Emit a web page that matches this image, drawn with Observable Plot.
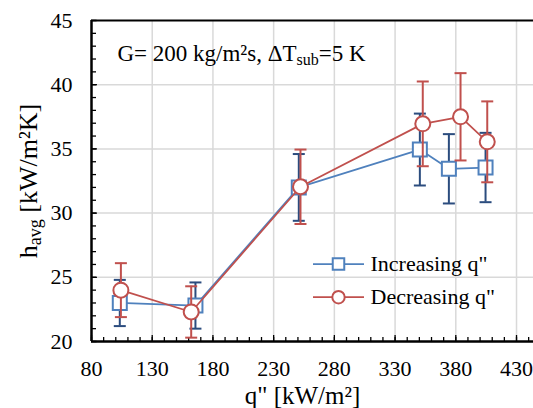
<!DOCTYPE html>
<html><head><meta charset="utf-8">
<script src="https://cdn.jsdelivr.net/npm/d3@7"></script>
<script src="https://cdn.jsdelivr.net/npm/@observablehq/plot@0.6"></script>
<style>html,body{margin:0;padding:0;background:#fff;overflow:hidden;}</style>
</head><body><div id="chart"></div>
<script>
// ---- data ----
const qInc = [103.3, 165.6, 250.7, 350.4, 374.3, 404.5];
const hInc = [23.0, 22.8, 32.0, 34.95, 33.45, 33.55];
const errInc = [1.8, 1.8, 2.6, 2.8, 2.7, 2.7];
const qDec = [104.2, 162.1, 252.1, 352.8, 383.9, 405.9];
const hDec = [24.0, 22.3, 32.05, 36.95, 37.5, 35.55];
const errDec = [2.1, 2.0, 2.9, 3.3, 3.4, 3.15];
const seriesNames = ["Increasing q\"", "Decreasing q\""];
const xMajor = [80, 130, 180, 230, 280, 330, 380, 430];
const xMinor = [80, 90, 100, 110, 120, 130, 140, 150, 160, 170, 180, 190, 200, 210, 220, 230, 240, 250, 260, 270, 280, 290, 300, 310, 320, 330, 340, 350, 360, 370, 380, 390, 400, 410, 420, 430, 440];
const yMajor = [20, 25, 30, 35, 40, 45];
const yMinor = [20, 21, 22, 23, 24, 25, 26, 27, 28, 29, 30, 31, 32, 33, 34, 35, 36, 37, 38, 39, 40, 41, 42, 43, 44, 45];
const xLabel = "q\" [kW/m²]";
const yLabel = "havg [kW/m²K]";
const note = "G= 200 kg/m²s, ΔTsub=5 K";

const inc = qInc.map((q, i) => ({q, h: hInc[i], e: errInc[i]}));
const dec = qDec.map((q, i) => ({q, h: hDec[i], e: errDec[i]}));

const BLUE = "#4F81BD", BLUE_ERR = "#2B4C7E", RED = "#C0504D", GRID = "#D9D9D9";
const FONT = "Liberation Serif, DejaVu Serif, Times New Roman, serif";
const capSym = {draw(ctx) { ctx.moveTo(-6, 0); ctx.lineTo(6, 0); }};
const legLine = {draw(ctx) { ctx.moveTo(-25.5, 0); ctx.lineTo(25.5, 0); }};

function series(data, color, errColor, symbol, r) {
  return [
    Plot.ruleX(data, {x: "q", y1: d => d.h - d.e, y2: d => d.h + d.e, stroke: errColor, strokeWidth: 2}),
    Plot.dot(data, {x: "q", y: d => d.h + d.e, symbol: capSym, fill: "none", stroke: errColor, strokeWidth: 2}),
    Plot.dot(data, {x: "q", y: d => d.h - d.e, symbol: capSym, fill: "none", stroke: errColor, strokeWidth: 2}),
    Plot.line(data, {x: "q", y: "h", stroke: color, strokeWidth: 1.75}),
    Plot.dot(data, {x: "q", y: "h", symbol, r, fill: "white", stroke: color, strokeWidth: 2})
  ];
}
const T = {fontFamily: FONT, fill: "black"};

const chart = Plot.plot({
  width: 533, height: 408,
  marginLeft: 91, marginTop: 20, marginBottom: 67, marginRight: 0,
  style: "font-family: 'Liberation Serif', 'DejaVu Serif', serif; font-size: 22px; color: black; background: white;",
  x: {domain: [80, 450], range: [91, 540.3], label: null},
  y: {domain: [20, 45], label: null},
  marks: [
    Plot.gridX(xMajor.slice(1), {stroke: GRID, strokeOpacity: 1, strokeWidth: 1.5}),
    Plot.gridY(yMajor.slice(1, -1), {stroke: GRID, strokeOpacity: 1, strokeWidth: 1.5}),
    Plot.axisX(xMinor, {tickSize: -4, tickFormat: () => "", strokeWidth: 1.3}),
    Plot.axisX(xMajor, {tickSize: -6, tickFormat: () => "", strokeWidth: 1.3}),
    Plot.axisX(xMajor, {tickSize: 0, tickPadding: 19, fontSize: 22, ...T}),
    Plot.axisY(yMinor, {tickSize: -5, tickFormat: () => "", strokeWidth: 1.3}),
    Plot.axisY(yMajor, {tickSize: -6, tickFormat: () => "", strokeWidth: 1.3}),
    Plot.axisY(yMajor, {tickSize: 0, tickPadding: 19, fontSize: 22, ...T}),
    Plot.ruleY([45], {stroke: "black", strokeWidth: 2.2}),
    Plot.ruleY([20], {stroke: "black", strokeWidth: 2.3}),
    Plot.ruleX([80], {stroke: "black", strokeWidth: 2.5}),
    ...series(inc, BLUE, BLUE_ERR, "square", 7.9),
    ...series(dec, RED, RED, "circle", 7.5),
    // legend
    Plot.dot([seriesNames[0]], {frameAnchor: "top-left", dx: 247, dy: 243.5, symbol: legLine, fill: "none", stroke: BLUE, strokeWidth: 1.75}),
    Plot.dot([seriesNames[0]], {frameAnchor: "top-left", dx: 247, dy: 243.5, symbol: "square", r: 6.5, fill: "white", stroke: BLUE, strokeWidth: 2}),
    Plot.text([seriesNames[0]], {frameAnchor: "top-left", dx: 279, dy: 243.5, textAnchor: "start", lineAnchor: "middle", fontSize: 22, ...T}),
    Plot.dot([seriesNames[1]], {frameAnchor: "top-left", dx: 247, dy: 276.7, symbol: legLine, fill: "none", stroke: RED, strokeWidth: 1.75}),
    Plot.dot([seriesNames[1]], {frameAnchor: "top-left", dx: 247, dy: 276.7, symbol: "circle", r: 6.2, fill: "white", stroke: RED, strokeWidth: 2}),
    Plot.text([seriesNames[1]], {frameAnchor: "top-left", dx: 279, dy: 276.7, textAnchor: "start", lineAnchor: "middle", fontSize: 22, ...T}),
    // annotation & axis titles
    Plot.text([note], {frameAnchor: "top-left", dx: 26, dy: 40, textAnchor: "start", lineAnchor: "bottom", fontSize: 23, ...T}),
    Plot.text([xLabel], {frameAnchor: "bottom", dx: -10, dy: 62, textAnchor: "middle", lineAnchor: "bottom", fontSize: 25, ...T}),
    Plot.text([yLabel], {frameAnchor: "left", dx: -55, rotate: -90, textAnchor: "middle", lineAnchor: "bottom", fontSize: 26, ...T})
  ]
});

// rich text (subscripts) on the titles
function rich(svg, plain, parts, subSize) {
  d3.select(svg).selectAll("text").filter(function() { return this.textContent === plain; }).each(function() {
    const t = d3.select(this);
    t.text(null);
    parts.forEach(p => {
      const s = t.append("tspan").text(p[0]);
      if (p[1] === "sub") s.attr("font-size", subSize).attr("dy", 4);
      if (p[1] === "back") s.attr("dy", -4);
    });
  });
}
rich(chart, yLabel, [["h"], ["avg", "sub"], [" [kW/m²K]", "back"]], 18);
rich(chart, note, [["G= 200 kg/m²s, ΔT"], ["sub", "sub"], ["=5 K", "back"]], 16);

document.getElementById("chart").append(chart);
</script>
</body></html>
